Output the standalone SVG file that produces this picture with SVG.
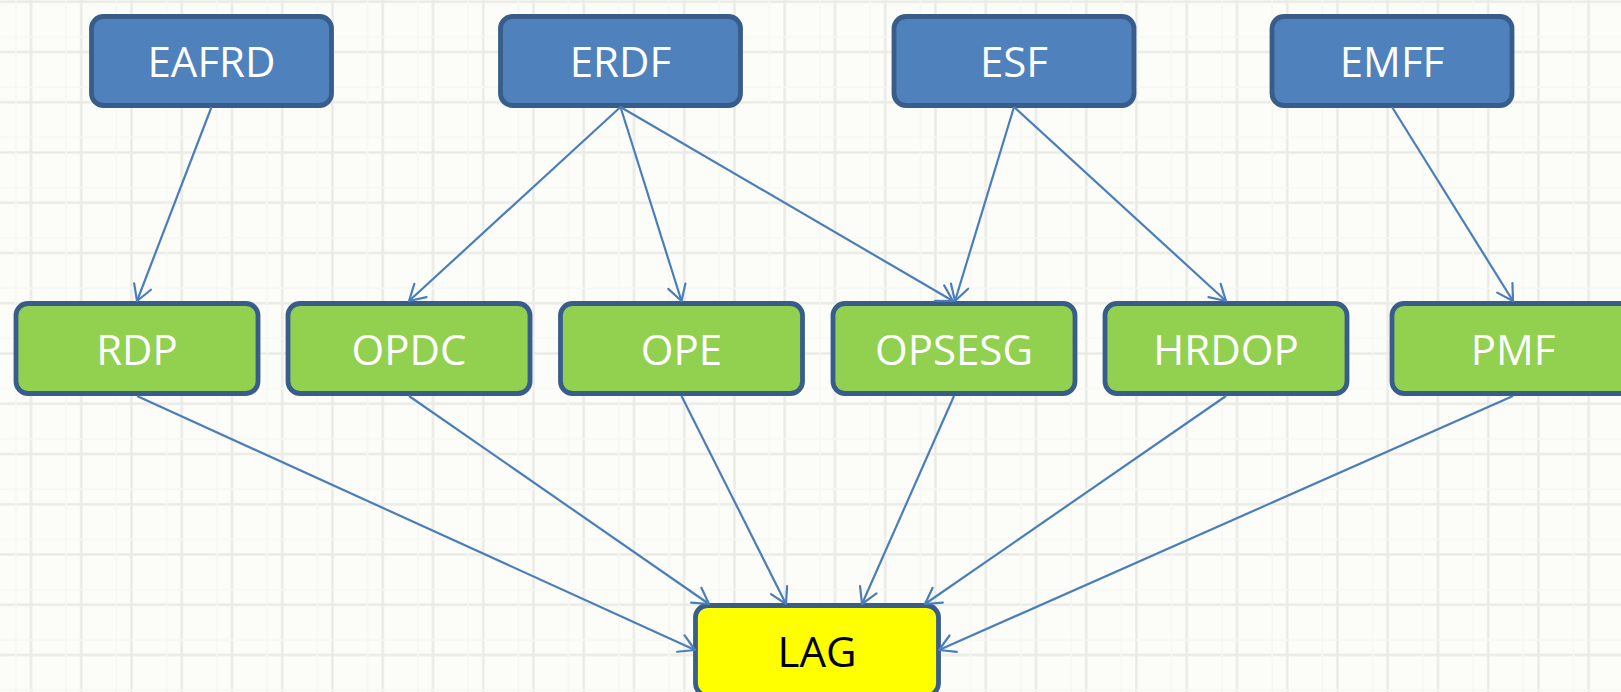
<svg xmlns="http://www.w3.org/2000/svg" width="1621" height="692" viewBox="0 0 1621 692">
<style>
.node rect{stroke:#385d8a;stroke-width:4.8}
.blue rect{fill:#4f81bd}
.green rect{fill:#92d050}
.yellow rect{fill:#ffff00}
.node text{font-family:"Open Sans","Liberation Sans",sans-serif;font-size:42px;text-anchor:middle;fill:#ffffff}
.yellow text{fill:#000000}
.conn line{stroke:#4a7ebb;stroke-width:2.2;fill:none}
</style>
<defs>
<pattern id="grid" x="5.875" y="-23.375" width="50.25" height="50.25" patternUnits="userSpaceOnUse">
<path d="M25.125,0 V50.25 M0,25.125 H50.25" stroke="#ebebe6" stroke-width="2.5" fill="none"/>
<path d="M10,0 V50.25 M0,10 H50.25" stroke="#f7f7f3" stroke-width="1.5" fill="none"/>
</pattern>
<marker id="arr" markerUnits="userSpaceOnUse" markerWidth="30" markerHeight="30" viewBox="-20 -15 30 30" refX="0" refY="0" orient="auto">
<path d="M-15.5,-9 L0,0 L-15.5,9" fill="none" stroke="#4a7ebb" stroke-width="2.2" stroke-linecap="round" stroke-linejoin="round"/>
</marker>
</defs>
<rect width="1621" height="692" fill="#fcfdf8"/>
<rect width="1621" height="692" fill="url(#grid)"/>
<g id="n-eafrd" class="node blue"><rect x="91.5" y="16.5" width="240" height="89" rx="12"/><text x="211.5" y="77">EAFRD</text></g>
<g id="n-erdf" class="node blue"><rect x="500.5" y="16.5" width="240" height="89" rx="12"/><text x="620.5" y="77">ERDF</text></g>
<g id="n-esf" class="node blue"><rect x="894" y="16.5" width="240" height="89" rx="12"/><text x="1014" y="77">ESF</text></g>
<g id="n-emff" class="node blue"><rect x="1272" y="16.5" width="240" height="89" rx="12"/><text x="1392" y="77">EMFF</text></g>
<g id="n-rdp" class="node green"><rect x="16" y="303.5" width="242" height="90" rx="12"/><text x="137" y="364.5">RDP</text></g>
<g id="n-opdc" class="node green"><rect x="288" y="303.5" width="242" height="90" rx="12"/><text x="409" y="364.5">OPDC</text></g>
<g id="n-ope" class="node green"><rect x="560.5" y="303.5" width="242" height="90" rx="12"/><text x="681.5" y="364.5">OPE</text></g>
<g id="n-opsesg" class="node green"><rect x="833" y="303.5" width="242" height="90" rx="12"/><text x="954" y="364.5">OPSESG</text></g>
<g id="n-hrdop" class="node green"><rect x="1105" y="303.5" width="242" height="90" rx="12"/><text x="1226" y="364.5">HRDOP</text></g>
<g id="n-pmf" class="node green"><rect x="1392" y="303.5" width="242" height="90" rx="12"/><text x="1513" y="364.5">PMF</text></g>
<g id="n-lag" class="node yellow"><rect x="695.5" y="605.5" width="243" height="90" rx="12"/><text x="817" y="667">LAG</text></g>
<g id="connectors" class="conn">
<line x1="211.5" y1="107" x2="137" y2="301" marker-end="url(#arr)"/>
<line x1="620.5" y1="107" x2="409" y2="301" marker-end="url(#arr)"/>
<line x1="620.5" y1="107" x2="681.5" y2="301" marker-end="url(#arr)"/>
<line x1="620.5" y1="107" x2="953" y2="301" marker-end="url(#arr)"/>
<line x1="1014" y1="107" x2="955" y2="301" marker-end="url(#arr)"/>
<line x1="1014" y1="107" x2="1226" y2="301" marker-end="url(#arr)"/>
<line x1="1392" y1="107" x2="1513" y2="301" marker-end="url(#arr)"/>
<line x1="137" y1="396" x2="695" y2="650" marker-end="url(#arr)"/>
<line x1="409" y1="396" x2="709" y2="604" marker-end="url(#arr)"/>
<line x1="681.5" y1="396" x2="786" y2="604" marker-end="url(#arr)"/>
<line x1="954" y1="396" x2="862" y2="604" marker-end="url(#arr)"/>
<line x1="1226" y1="396" x2="925" y2="604" marker-end="url(#arr)"/>
<line x1="1513" y1="396" x2="939" y2="650" marker-end="url(#arr)"/>
</g>
</svg>
